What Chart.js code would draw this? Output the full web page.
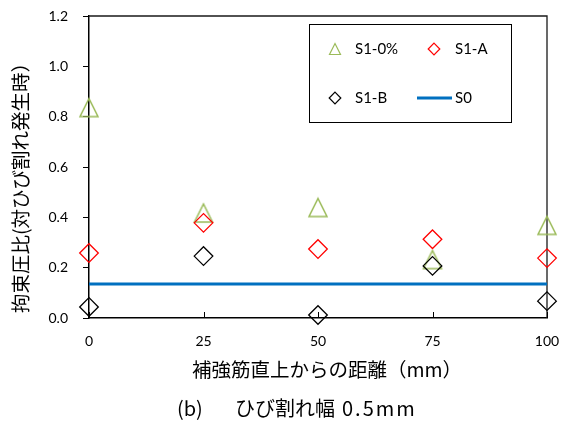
<!DOCTYPE html>
<html>
<head>
<meta charset="utf-8">
<script src="https://cdn.jsdelivr.net/npm/chart.js@4/dist/chart.umd.min.js"></script>
<style>
  html, body { margin: 0; padding: 0; background: #fff; }
  canvas { display: block; }
</style>
</head>
<body>
<canvas id="chart" width="563" height="423"></canvas>
<script>
// Distance from the rebar centreline (mm) and confinement-pressure ratios per specimen
const positions = [0, 25, 50, 75, 100];
const s10Values = [0.836, 0.417, 0.439, 0.232, 0.368];
const s1AValues = [0.258, 0.378, 0.274, 0.313, 0.238];
const s1BValues = [0.044, 0.246, 0.012, 0.207, 0.067];
const s0Positions = [0, 100];
const s0Values = [0.135, 0.135];

const xTickValues = [0, 25, 50, 75, 100];
const yTickValues = [0, 0.2, 0.4, 0.6, 0.8, 1.0, 1.2];

const seriesNames = ['S1-0%', 'S1-A', 'S1-B', 'S0'];
const xTitle = '補強筋直上からの距離（mm）';
const yTitle = '拘束圧比(対ひび割れ発生時）';
const captionLabel = '(b)';
const captionText = 'ひび割れ幅';
const captionValue = '0.5mm';

const GREEN = '#9BBB59';
const RED = '#FF0000';
const BLACK = '#000000';
const BLUE = '#0070C0';
const LATIN = 'Lato, "Open Sans", sans-serif';
const CJK = '"Noto Sans CJK JP", "Noto Sans", sans-serif';

// Open isosceles triangle used as a marker image
function makeTriangle(size, color, lw) {
  const pad = Math.ceil(lw) + 1;
  const c = document.createElement('canvas');
  c.width = size + pad * 2;
  c.height = size + pad * 2;
  const g = c.getContext('2d');
  g.strokeStyle = color;
  g.lineWidth = lw;
  g.lineJoin = 'miter';
  g.beginPath();
  g.moveTo(pad, pad + size);
  g.lineTo(pad + size, pad + size);
  g.lineTo(pad + size / 2, pad);
  g.closePath();
  g.stroke();
  return c;
}

const toPoints = (xs, ys) => xs.map((x, i) => ({ x: x, y: ys[i] }));

// Frame (top/right) and inward x tick marks
const framePlugin = {
  id: 'frame',
  beforeDatasetsDraw(chart) {
    const { ctx, chartArea: a, scales } = chart;
    ctx.save();
    ctx.strokeStyle = '#1a1a1a';
    ctx.lineWidth = 1.3;
    ctx.beginPath();
    ctx.moveTo(a.left, a.top);
    ctx.lineTo(a.right, a.top);
    ctx.lineTo(a.right, a.bottom);
    ctx.stroke();
    ctx.strokeStyle = '#000';
    ctx.lineWidth = 1;
    xTickValues.forEach(v => {
      const px = Math.round(scales.x.getPixelForValue(v)) + 0.5;
      ctx.beginPath();
      ctx.moveTo(px, a.bottom);
      ctx.lineTo(px, a.bottom - 6);
      ctx.stroke();
    });
    ctx.restore();
  }
};

// Axis titles, caption and boxed legend
const textPlugin = {
  id: 'texts',
  afterDraw(chart) {
    const { ctx } = chart;
    const ds = chart.data.datasets;
    ctx.save();
    ctx.fillStyle = '#000';

    // x-axis title
    ctx.font = '19.5px ' + CJK;
    ctx.textAlign = 'center';
    ctx.textBaseline = 'middle';
    ctx.fillText(xTitle, 327, 370);

    // y-axis title
    ctx.save();
    ctx.translate(21, 183);
    ctx.rotate(-Math.PI / 2);
    ctx.fillText(yTitle, 0, 0);
    ctx.restore();

    // caption
    ctx.textAlign = 'left';
    ctx.font = '20px ' + CJK;
    ctx.fillText(captionLabel, 177, 408);
    ctx.fillText(captionText, 235, 408);
    ctx.letterSpacing = '2px';
    ctx.fillText(captionValue, 342, 408);
    ctx.letterSpacing = '0px';

    // legend box
    ctx.fillStyle = '#fff';
    ctx.fillRect(309, 24, 202, 98);
    ctx.strokeStyle = '#000';
    ctx.lineWidth = 1;
    ctx.strokeRect(309.5, 24.5, 202, 98);

    const items = [
      { i: 0, kind: 'tri', mx: 335, my: 49, tx: 355 },
      { i: 1, kind: 'dia', mx: 434, my: 49, tx: 455 },
      { i: 2, kind: 'dia', mx: 335, my: 98, tx: 355 },
      { i: 3, kind: 'line', mx: 417, my: 98, tx: 455 }
    ];
    items.forEach(it => {
      const d = ds[it.i];
      ctx.strokeStyle = d.borderColor;
      ctx.beginPath();
      if (it.kind === 'tri') {
        ctx.lineWidth = 1.2;
        ctx.moveTo(it.mx - 5.5, it.my + 5.5);
        ctx.lineTo(it.mx + 5.5, it.my + 5.5);
        ctx.lineTo(it.mx, it.my - 5.5);
        ctx.closePath();
      } else if (it.kind === 'dia') {
        ctx.lineWidth = 1.2;
        ctx.moveTo(it.mx, it.my - 5.8);
        ctx.lineTo(it.mx + 5.8, it.my);
        ctx.lineTo(it.mx, it.my + 5.8);
        ctx.lineTo(it.mx - 5.8, it.my);
        ctx.closePath();
      } else {
        ctx.lineWidth = d.borderWidth;
        ctx.moveTo(it.mx, it.my);
        ctx.lineTo(it.mx + 35, it.my);
      }
      ctx.stroke();
      ctx.fillStyle = '#000';
      ctx.font = '15px ' + LATIN;
      ctx.textAlign = 'left';
      ctx.textBaseline = 'middle';
      ctx.fillText(d.label, it.tx, it.my);
    });
    ctx.restore();
  }
};

const markerBase = {
  showLine: false,
  clip: false,
  backgroundColor: 'rgba(0,0,0,0)',
  pointBackgroundColor: 'rgba(0,0,0,0)',
  pointBorderWidth: 1.3,
  pointHoverRadius: 9
};

new Chart(document.getElementById('chart'), {
  type: 'scatter',
  data: {
    datasets: [
      Object.assign({}, markerBase, {
        label: seriesNames[0],
        data: toPoints(positions, s10Values),
        borderColor: GREEN,
        pointBorderColor: GREEN,
        pointStyle: makeTriangle(18, GREEN, 1.5),
        pointRadius: 9,
        order: 3
      }),
      Object.assign({}, markerBase, {
        label: seriesNames[1],
        data: toPoints(positions, s1AValues),
        borderColor: RED,
        pointBorderColor: RED,
        pointStyle: 'rectRot',
        pointRadius: 9.3,
        order: 2
      }),
      Object.assign({}, markerBase, {
        label: seriesNames[2],
        data: toPoints(positions, s1BValues),
        borderColor: BLACK,
        pointBorderColor: BLACK,
        pointStyle: 'rectRot',
        pointRadius: 9.3,
        order: 1
      }),
      {
        label: seriesNames[3],
        data: toPoints(s0Positions, s0Values),
        showLine: true,
        borderColor: BLUE,
        backgroundColor: BLUE,
        borderWidth: 3,
        pointRadius: 0,
        pointHoverRadius: 0,
        clip: false,
        order: 0
      }
    ]
  },
  options: {
    responsive: false,
    animation: false,
    devicePixelRatio: 1,
    events: [],
    layout: { padding: { left: 0, top: 16, right: 16, bottom: 0 } },
    plugins: {
      legend: { display: false },
      tooltip: { enabled: false },
      title: { display: false }
    },
    scales: {
      x: {
        type: 'linear',
        min: 0,
        max: 100,
        afterBuildTicks: s => { s.ticks = xTickValues.map(v => ({ value: v })); },
        afterFit: s => { s.height = 105; s.paddingLeft = 0; s.paddingRight = 0; },
        grid: { display: true, drawOnChartArea: false, drawTicks: false },
        border: { display: true, color: '#000', width: 1.5 },
        ticks: {
          padding: 15,
          color: '#000',
          maxRotation: 0,
          font: { family: LATIN, size: 14 }
        }
      },
      y: {
        type: 'linear',
        min: 0,
        max: 1.2,
        afterBuildTicks: s => { s.ticks = yTickValues.map(v => ({ value: v })); },
        afterFit: s => { s.width = 89; s.paddingTop = 0; s.paddingBottom = 0; },
        grid: { display: true, drawOnChartArea: false, drawTicks: true, tickLength: 6, color: '#000', lineWidth: 1 },
        border: { display: true, color: '#000', width: 1.5 },
        ticks: {
          padding: 15,
          color: '#000',
          font: { family: LATIN, size: 14 },
          callback: v => Number(v).toFixed(1)
        }
      }
    }
  },
  plugins: [framePlugin, textPlugin]
});
</script>
</body>
</html>
